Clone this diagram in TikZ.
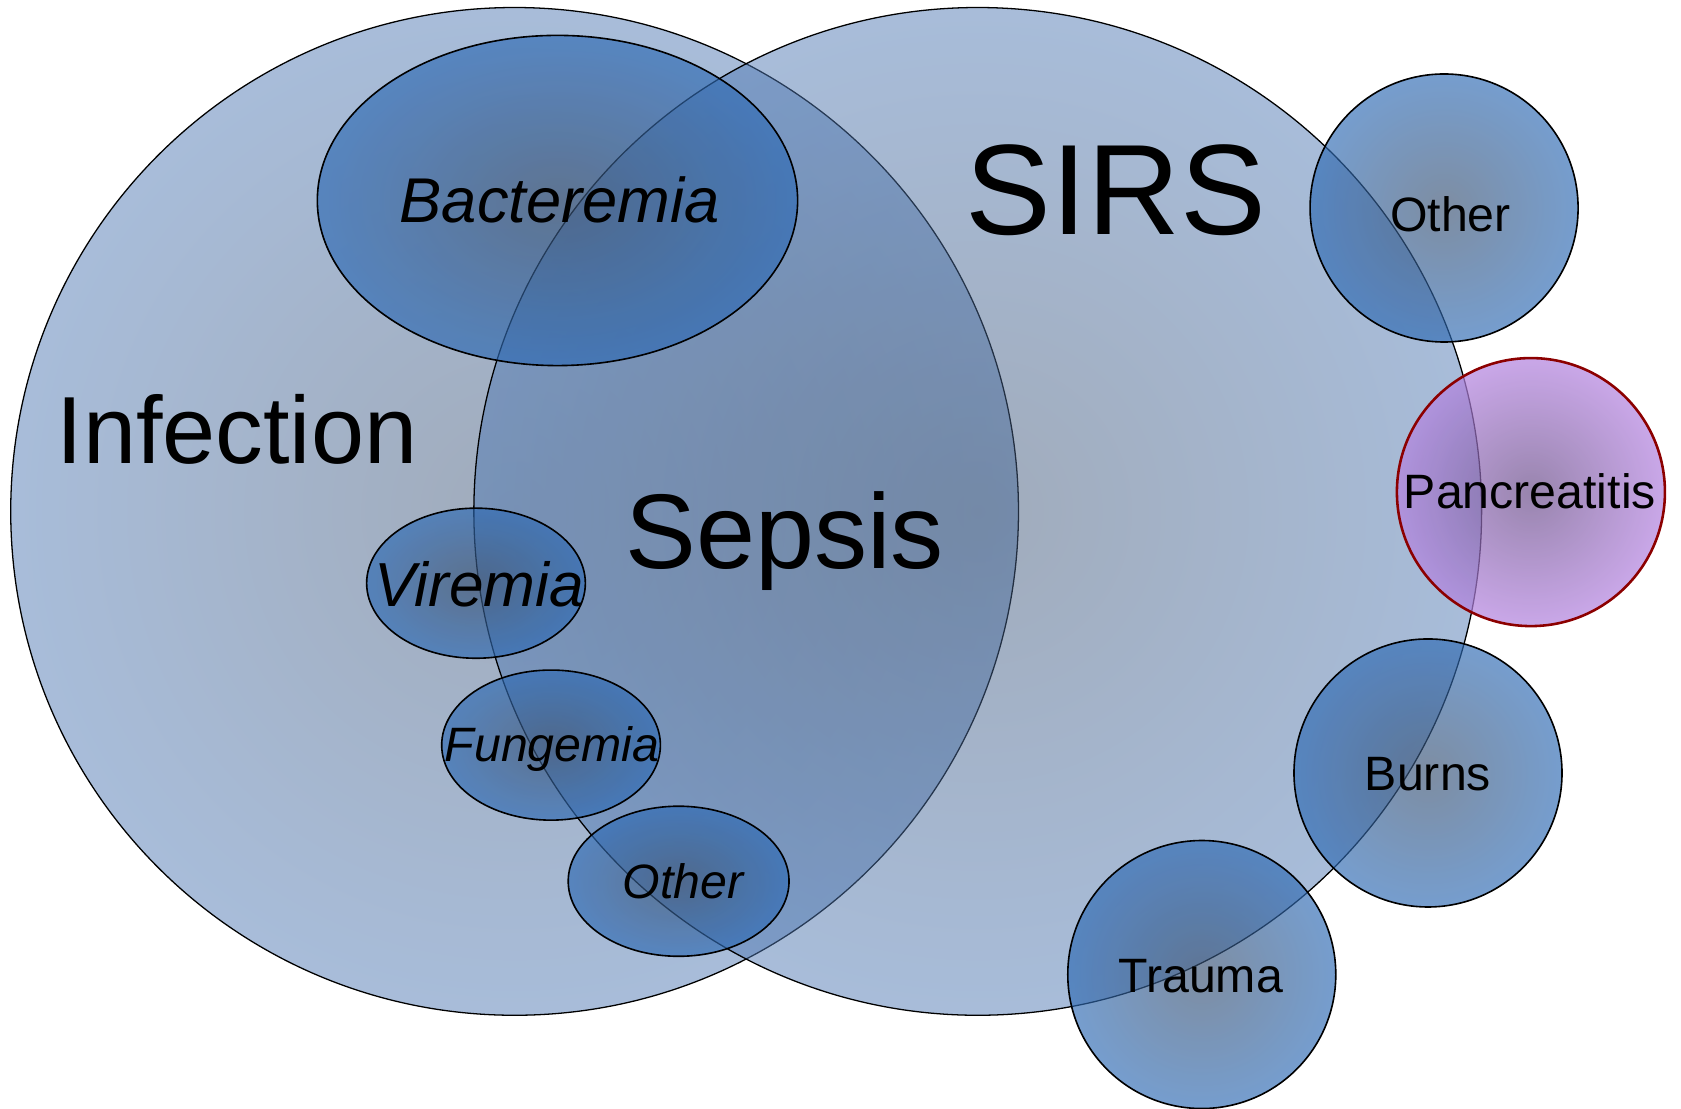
\documentclass[tikz,border=0pt]{standalone}
\usepackage{fontspec}
\setmainfont{Liberation Sans}
\usetikzlibrary{shapes.geometric}
\definecolor{bigin}{RGB}{66,88,120}
\definecolor{bigout}{RGB}{88,138,208}
\definecolor{smin}{RGB}{58,82,114}
\definecolor{smout}{RGB}{42,116,206}
\definecolor{pin}{RGB}{110,82,140}
\definecolor{pout}{RGB}{206,150,255}
\definecolor{pline}{RGB}{140,0,0}
\colorlet{bigmid}{bigin!45!bigout}
\colorlet{smmid}{smin!50!smout}
\colorlet{pmid}{pin!50!pout}
\pgfdeclareradialshading{bigshade}{\pgfpoint{0bp}{0bp}}{color(0bp)=(bigin); color(20bp)=(bigmid); color(37bp)=(bigout); color(50bp)=(bigout)}
\pgfdeclareradialshading{smshade}{\pgfpoint{0bp}{0bp}}{color(0bp)=(smin); color(17bp)=(smmid); color(35bp)=(smout); color(50bp)=(smout)}
\pgfdeclareradialshading{pshade}{\pgfpoint{0bp}{0bp}}{color(0bp)=(pin); color(17bp)=(pmid); color(35bp)=(pout); color(50bp)=(pout)}
\tikzset{
  bigset/.style={circle, inner sep=0pt, minimum size=470pt, shading=bigshade, fill opacity=0.5, draw=black, draw opacity=1, line width=0.6pt},
  smellipse/.style={ellipse, inner sep=0pt, shading=smshade, fill opacity=0.66, draw=black, draw opacity=1, line width=0.75pt},
  smcircle/.style={circle, inner sep=0pt, minimum size=125pt, shading=smshade, fill opacity=0.66, draw=black, draw opacity=1, line width=0.75pt},
  pcircle/.style={circle, inner sep=0pt, minimum size=125pt, shading=pshade, fill opacity=0.71, draw=pline, draw opacity=1, line width=1.2pt},
  lbl/.style={anchor=base, inner sep=0pt, text=black}
}
\begin{document}
\begin{tikzpicture}[x=0.5pt,y=-0.5pt]
\useasboundingbox (0,0) rectangle (1568,1034.4);
% big sets
\node[bigset] (inf) at (480,477) {};
\node[bigset] (sirs) at (912,477) {};
% small shapes on the left
\node[smellipse, minimum width=224pt, minimum height=154pt] (bact) at (520,187) {};
\node[smellipse, minimum width=102pt, minimum height=70pt] (vir) at (444,544) {};
\node[smellipse, minimum width=102pt, minimum height=70pt] (fung) at (514,695) {};
\node[smellipse, minimum width=103pt, minimum height=70pt] (othl) at (633,822) {};
% small circles on the right
\node[smcircle] (othr) at (1347,194) {};
\node[pcircle] (panc) at (1428,459) {};
\node[smcircle] (burn) at (1332,721) {};
\node[smcircle] (trau) at (1121,909) {};
% labels
\node[lbl] (tinf) at (221,432) {\fontsize{44.5}{54}\selectfont Infection};
\node[lbl] (tsirs) at (1041,219) {\fontsize{60}{72}\selectfont SIRS};
\node[lbl] (tsep) at (732,530) {\fontsize{49.5}{60}\selectfont Sepsis};
\node[lbl] (tbact) at (522,208) {\fontsize{29.5}{35}\selectfont\itshape Bacteremia};
\node[lbl] (tvir) at (447,566) {\fontsize{29}{35}\selectfont\itshape Viremia};
\node[lbl] (tfung) at (515,710) {\fontsize{22.5}{27}\selectfont\itshape Fungemia};
\node[lbl] (tothl) at (637,838) {\fontsize{22.5}{27}\selectfont\itshape Other};
\node[lbl] (tothr) at (1353,216) {\fontsize{22.5}{27}\selectfont Other};
\node[lbl] (tpanc) at (1427,474) {\fontsize{22.5}{27}\selectfont Pancreatitis};
\node[lbl] (tburn) at (1332,737) {\fontsize{22.5}{27}\selectfont Burns};
\node[lbl] (ttrau) at (1120,926) {\fontsize{22.5}{27}\selectfont Trauma};
\end{tikzpicture}
\end{document}
